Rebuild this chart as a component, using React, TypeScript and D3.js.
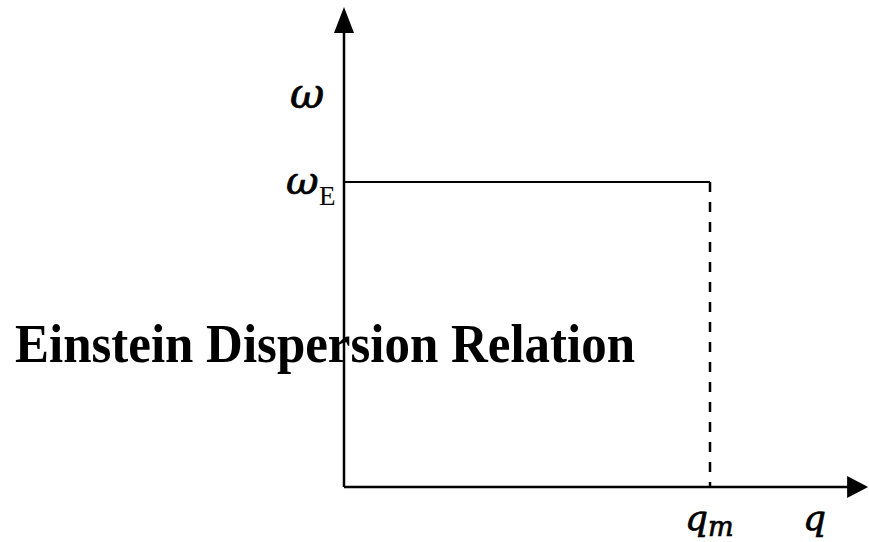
import React from "react";
import * as d3 from "d3";

// Einstein model: flat dispersion ω(q) = ω_E up to the cutoff wavevector q_m
const qCutoff = 1; // q_m
const omegaEinstein = 1; // ω_E
const dispersionQ = [0, qCutoff];
const dispersionOmega = [omegaEinstein, omegaEinstein];
const axisMax = { q: 1.432, omega: 1.574 };
const title = "Einstein Dispersion Relation";

const W = 869;
const H = 542;
const origin = { x: 344, y: 487 };

export default function App() {
  const x = d3.scaleLinear().domain([0, 1]).range([origin.x, 710]);
  const y = d3.scaleLinear().domain([0, 1]).range([origin.y, 182]);

  const xEnd = x(axisMax.q);
  const yEnd = y(axisMax.omega);

  const line = d3
    .line<number>()
    .x((_, i) => x(dispersionQ[i]))
    .y((d) => y(d));

  const serif = "'Liberation Serif', 'Times New Roman', serif";
  const symbol = {
    fontFamily: "'DejaVu Serif', serif",
    fontStyle: "italic",
    fill: "#000",
    stroke: "#000",
    strokeWidth: 0.7,
  };

  return (
    <svg
      width={W}
      height={H}
      style={{ position: "absolute", left: 0, top: 0, background: "#fff" }}
    >
      {/* axes */}
      <line x1={origin.x} y1={origin.y} x2={origin.x} y2={yEnd + 20} stroke="#000" strokeWidth={2.5} />
      <path
        d={`M${origin.x},${yEnd} L${origin.x - 10},${yEnd + 26} L${origin.x + 10},${yEnd + 26} Z`}
        fill="#000"
      />
      <line x1={origin.x} y1={origin.y} x2={xEnd - 15} y2={origin.y} stroke="#000" strokeWidth={2.5} />
      <path
        d={`M${xEnd},${origin.y} L${xEnd - 21},${origin.y - 11} L${xEnd - 21},${origin.y + 11} Z`}
        fill="#000"
      />

      {/* flat Einstein branch */}
      <path d={line(dispersionOmega) || ""} fill="none" stroke="#000" strokeWidth={2} />
      {/* cutoff at q_m */}
      <line
        x1={x(qCutoff)}
        y1={y(omegaEinstein)}
        x2={x(qCutoff)}
        y2={origin.y}
        stroke="#000"
        strokeWidth={2.5}
        strokeDasharray="10 10"
      />

      {/* axis labels */}
      <text x={290} y={108} fontSize={42} {...symbol}>
        ω
      </text>
      <text x={286} y={194} fontSize={40} {...symbol}>
        ω
      </text>
      <text x={319} y={205} fontFamily={serif} fontSize={27} fill="#000">
        E
      </text>
      <text x={685} y={530} fontSize={36} {...symbol}>
        q
      </text>
      <text x={708} y={536} fontSize={27} {...symbol}>
        m
      </text>
      <text x={803} y={530} fontSize={36} {...symbol}>
        q
      </text>

      <text
        x={15}
        y={362}
        fontFamily={serif}
        fontWeight="bold"
        fontSize={54}
        fill="#000"
        textLength={620}
        lengthAdjust="spacingAndGlyphs"
      >
        {title}
      </text>
    </svg>
  );
}
